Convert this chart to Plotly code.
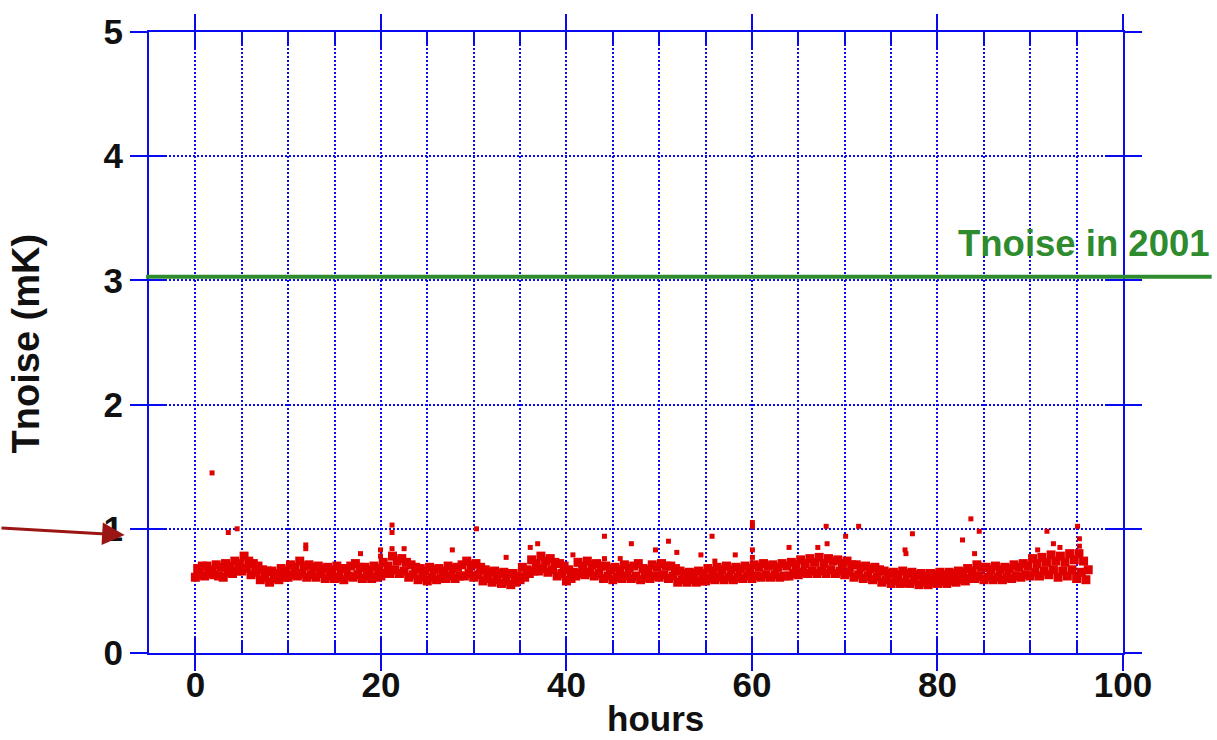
import plotly.graph_objects as go

# ---------------- data ----------------
# Tnoise samples, 4 samples per hour, starting at hour 0 (sample spacing 0.25 h)
tnoise = [
    0.61,0.68,0.63,0.70, 0.62,0.70,0.64,0.67, 0.63,0.71,0.62,0.69, 0.61,0.72,0.65,0.70,
    0.64,0.74,0.66,0.72, 0.66,0.78,0.68,0.74, 0.63,0.72,0.65,0.70, 0.59,0.67,0.61,0.66,
    0.57,0.66,0.60,0.64, 0.59,0.68,0.61,0.66, 0.61,0.71,0.63,0.69, 0.62,0.74,0.64,0.70,
    0.61,0.71,0.63,0.69, 0.61,0.70,0.64,0.68, 0.60,0.69,0.62,0.67, 0.60,0.70,0.61,0.68,
    0.59,0.68,0.62,0.70, 0.61,0.72,0.63,0.69, 0.60,0.69,0.62,0.67, 0.60,0.70,0.61,0.68,
    0.62,0.73,0.64,0.70, 0.64,0.78,0.67,0.74, 0.64,0.76,0.66,0.73, 0.61,0.71,0.63,0.69,
    0.59,0.68,0.61,0.66, 0.58,0.69,0.61,0.67, 0.59,0.68,0.60,0.66, 0.60,0.70,0.62,0.68,
    0.60,0.69,0.62,0.71, 0.62,0.74,0.64,0.71, 0.61,0.72,0.63,0.69, 0.58,0.67,0.60,0.65,
    0.57,0.66,0.59,0.64, 0.56,0.65,0.58,0.64, 0.55,0.64,0.57,0.62, 0.59,0.69,0.61,0.67,
    0.64,0.75,0.66,0.72, 0.66,0.78,0.68,0.74, 0.65,0.76,0.67,0.73, 0.62,0.72,0.64,0.70,
    0.58,0.67,0.60,0.65, 0.62,0.73,0.64,0.70, 0.63,0.74,0.65,0.71, 0.62,0.72,0.64,0.70,
    0.60,0.70,0.62,0.68, 0.59,0.69,0.61,0.67, 0.60,0.71,0.62,0.68, 0.60,0.70,0.62,0.72,
    0.59,0.68,0.61,0.67, 0.60,0.71,0.62,0.69, 0.61,0.72,0.63,0.70, 0.60,0.70,0.62,0.68,
    0.57,0.66,0.59,0.64, 0.57,0.65,0.59,0.64, 0.57,0.66,0.58,0.64, 0.58,0.68,0.60,0.66,
    0.59,0.69,0.61,0.67, 0.59,0.70,0.61,0.67, 0.59,0.69,0.61,0.68, 0.60,0.70,0.62,0.68,
    0.60,0.71,0.62,0.69, 0.61,0.72,0.63,0.70, 0.61,0.71,0.63,0.69, 0.61,0.72,0.62,0.70,
    0.62,0.73,0.64,0.71, 0.63,0.75,0.65,0.72, 0.64,0.76,0.66,0.73, 0.64,0.77,0.66,0.72,
    0.64,0.76,0.67,0.74, 0.64,0.75,0.66,0.72, 0.63,0.74,0.65,0.71, 0.61,0.71,0.63,0.69,
    0.60,0.70,0.62,0.68, 0.59,0.69,0.61,0.67, 0.57,0.66,0.59,0.64, 0.56,0.65,0.58,0.63,
    0.56,0.66,0.57,0.64, 0.56,0.65,0.58,0.63, 0.55,0.64,0.57,0.62, 0.55,0.64,0.57,0.63,
    0.56,0.65,0.58,0.63, 0.56,0.65,0.58,0.64, 0.57,0.66,0.59,0.65, 0.58,0.68,0.60,0.66,
    0.60,0.71,0.62,0.69, 0.59,0.69,0.61,0.67, 0.59,0.70,0.61,0.67, 0.59,0.69,0.61,0.68,
    0.60,0.71,0.62,0.69, 0.61,0.72,0.63,0.70, 0.62,0.76,0.65,0.72, 0.62,0.77,0.66,0.73,
    0.63,0.79,0.67,0.74, 0.61,0.78,0.66,0.73, 0.62,0.80,0.67,0.75, 0.60,0.80,0.65,0.74,
    0.59,0.67,
]
hours = [i * 0.25 for i in range(len(tnoise))]

# isolated excursions above the main band
spike_hours = [1.8, 3.55, 4.5, 11.9, 11.9, 17.8, 19.96, 19.96, 21.2, 21.2, 21.2, 22.5,
               27.7, 30.3, 33.5, 36.1, 36.9, 40.7, 44.1, 44.1, 45.8, 47.0, 49.6, 51.0,
               51.9, 54.5, 55.7, 56.0, 58.2, 60.05, 60.05, 60.05, 60.05, 64.0, 67.1,
               68.0, 68.1, 70.1, 71.5, 76.5, 76.6, 77.3, 82.7, 83.6, 84.0, 84.5, 90.8,
               91.8, 92.5, 93.2, 95.1, 95.3, 95.3, 95.3]
spike_vals = [1.45, 0.97, 1.00, 0.87, 0.84, 0.80, 0.83, 0.78, 1.03, 0.97, 0.84, 0.84,
              0.83, 1.00, 0.77, 0.85, 0.88, 0.79, 0.94, 0.76, 0.76, 0.88, 0.83, 0.90,
              0.81, 0.79, 0.94, 0.74, 0.79, 1.05, 1.02, 0.83, 0.77, 0.85, 0.85,
              1.02, 0.88, 0.94, 1.02, 0.83, 0.80, 0.96, 0.91, 1.08, 0.80, 0.98, 0.83,
              0.98, 0.88, 0.85, 1.02, 0.92, 0.86, 0.80]

tnoise_2001 = 3.03
x_range = [-5, 100]
y_range = [0, 5]
x_major = [0, 20, 40, 60, 80, 100]
y_major = [0, 1, 2, 3, 4, 5]

# ---------------- styles ----------------
BLUE = "#0a0af0"
RED = "#e00000"
GREEN = "#2e8b2e"
FONT = "Liberation Sans, Arial, Helvetica, sans-serif"

fig = go.Figure()
fig.add_trace(go.Scatter(x=hours, y=tnoise, mode="markers",
                         marker=dict(symbol="square", size=9, color=RED, line=dict(width=0)),
                         hoverinfo="skip", showlegend=False))
fig.add_trace(go.Scatter(x=spike_hours, y=spike_vals, mode="markers",
                         marker=dict(symbol="square", size=5, color=RED, line=dict(width=0)),
                         hoverinfo="skip", showlegend=False))
# dummy trace so the overlay axes (other halves of the crossing ticks) get drawn
fig.add_trace(go.Scatter(x=[None], y=[None], xaxis="x2", yaxis="y2",
                         mode="markers", hoverinfo="skip", showlegend=False))

grid_dash = "2px,2px"
tickfont = dict(family=FONT, size=35, color="#111111", weight="bold")

fig.update_layout(
    width=1217, height=740,
    margin=dict(l=149, r=94, t=32, b=87),
    paper_bgcolor="white", plot_bgcolor="white",
    showlegend=False,
    xaxis=dict(range=x_range, tickvals=x_major, ticks="inside", ticklen=17,
               tickwidth=2, tickcolor=BLUE, mirror="allticks", showline=True,
               linecolor=BLUE, linewidth=2, zeroline=False,
               showgrid=True, gridcolor=BLUE, gridwidth=1.5, griddash=grid_dash,
               tickfont=tickfont,
               minor=dict(dtick=5, tick0=0, ticks="inside", ticklen=13, tickwidth=2,
                          tickcolor=BLUE, showgrid=True, gridcolor=BLUE,
                          gridwidth=1.5, griddash=grid_dash)),
    yaxis=dict(range=y_range, tickvals=y_major, ticks="outside", ticklen=17,
               tickwidth=2, tickcolor=BLUE, mirror="allticks", showline=True,
               linecolor=BLUE, linewidth=2, zeroline=False,
               showgrid=True, gridcolor=BLUE, gridwidth=1.5, griddash=grid_dash,
               tickfont=tickfont),
    xaxis2=dict(range=x_range, overlaying="x", anchor="y", side="bottom",
                tickvals=x_major, ticks="outside", ticklen=17, tickwidth=2,
                tickcolor=BLUE, mirror="allticks", showline=False,
                showticklabels=False, showgrid=False, zeroline=False),
    yaxis2=dict(range=y_range, overlaying="y", anchor="x", side="left",
                tickvals=y_major, ticks="inside", ticklen=17, tickwidth=2,
                tickcolor=BLUE, mirror="allticks", showline=False,
                showticklabels=False, showgrid=False, zeroline=False),
)

# Tnoise in 2001 reference line
fig.add_shape(type="line", xref="paper", yref="y", x0=-0.003, x1=1.091,
              y0=tnoise_2001, y1=tnoise_2001, line=dict(color=GREEN, width=4),
              layer="above")
fig.add_annotation(text="Tnoise in 2001", xref="paper", yref="y", x=1.091,
                   y=tnoise_2001, xanchor="right", yanchor="bottom", yshift=11,
                   showarrow=False,
                   font=dict(family=FONT, size=36.5, color=GREEN, weight="bold"))

# axis titles
fig.add_annotation(text="hours", xref="paper", yref="paper", x=0.52, y=-0.1055,
                   xanchor="center", yanchor="middle", showarrow=False,
                   font=dict(family=FONT, size=35, color="#111111", weight="bold"))
fig.add_annotation(text="Tnoise (mK)", xref="paper", yref="paper", x=-0.126, y=0.499,
                   xanchor="center", yanchor="middle", textangle=-90, showarrow=False,
                   font=dict(family=FONT, size=38, color="#111111", weight="bold"))

# dark red arrow pointing at the 1 mK level
fig.add_annotation(text="", xref="paper", yref="paper", x=-0.025, y=0.19,
                   ax=-125, ay=-7, showarrow=True, arrowhead=2, arrowsize=1.5,
                   arrowwidth=3, arrowcolor="#9b1515")

fig.write_html("out.html")
